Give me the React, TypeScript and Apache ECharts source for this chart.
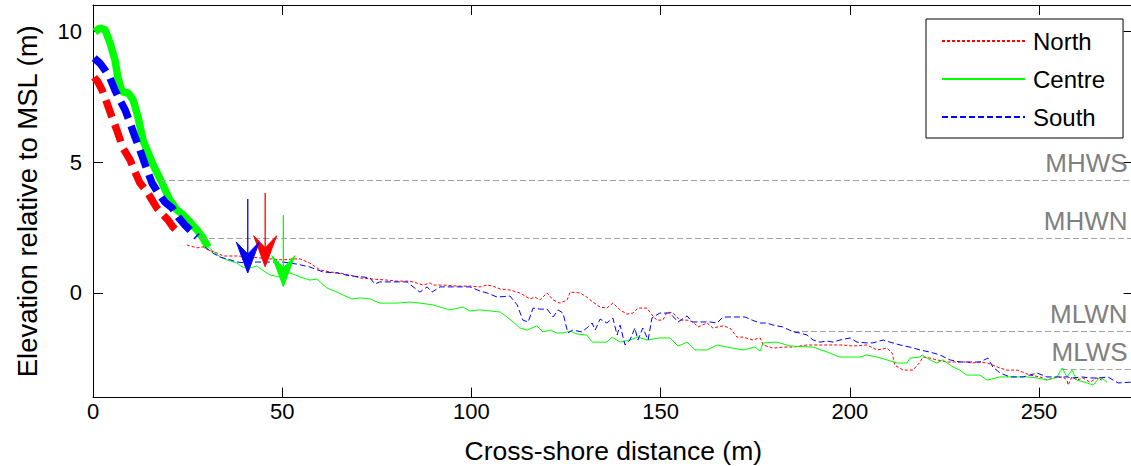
import React, { useEffect, useRef } from "react";
import * as echarts from "echarts";

// ---- Data (cross-shore distance m, elevation m relative to MSL) ----
const northThick: [number, number][] = [
  [0.3, 8.24], [1.3, 8.06], [2.4, 7.75], [3.7, 7.25], [5.0, 6.72], [6.3, 6.22],
  [7.9, 5.54], [9.8, 5.08], [11.1, 4.62], [12.4, 4.2], [14.3, 3.86], [15.6, 3.55],
  [16.9, 3.24], [18.5, 2.98], [19.8, 2.79], [21.1, 2.52], [22.5, 2.33], [23.5, 2.29],
];
const centreThick: [number, number][] = [
  [0.5, 9.97], [1.8, 10.12], [3.2, 10.05], [4.5, 9.55], [5.8, 8.9], [6.6, 8.21],
  [7.7, 7.68], [9.3, 7.64], [10.6, 7.37], [11.9, 6.72], [13.2, 5.84], [14.5, 5.38],
  [15.9, 4.89], [17.2, 4.51], [18.5, 4.12], [20.3, 3.55], [22.2, 3.17], [23.8, 2.98],
  [25.6, 2.71], [27.5, 2.4], [29.1, 2.09], [30.4, 1.75],
];
const southThick: [number, number][] = [
  [0.3, 8.97], [1.8, 8.78], [3.2, 8.51], [4.5, 8.21], [5.8, 7.75], [7.1, 7.37],
  [8.5, 6.99], [9.8, 6.49], [11.1, 5.96], [12.4, 5.46], [14.3, 4.7], [15.6, 4.2],
  [17.2, 3.82], [19.0, 3.47], [20.9, 3.25], [22.5, 2.9], [24.3, 2.59], [26.2, 2.32],
  [27.5, 2.14],
];

const northThin: [number, number][] = [
  [24.8, 1.83], [27.5, 1.72], [29.1, 1.76], [30.4, 1.64], [32.8, 1.52], [34.4, 1.41],
  [38.1, 1.41], [41.5, 1.37], [46.8, 1.3], [50.2, 1.26], [52.9, 1.3], [54.7, 1.3],
  [57.3, 1.14], [60.0, 0.88], [62.6, 0.8], [65.3, 0.76], [67.9, 0.68], [70.6, 0.57],
  [74.0, 0.53], [77.7, 0.49], [80.3, 0.45], [83.0, 0.45], [84.6, 0.42], [87.2, 0.3],
  [89.1, 0.38], [89.9, 0.3], [92.5, 0.3], [96.2, 0.26], [99.6, 0.26], [102.3, 0.23],
  [104.1, 0.3], [105.7, 0.26], [107.6, 0.15], [110.2, 0.11], [112.8, 0.0], [115.5, -0.23],
  [116.8, -0.16], [118.1, -0.27], [120.0, 0.0], [121.6, -0.27], [123.4, -0.39], [125.3, -0.27],
  [126.1, 0.03], [128.7, 0.0], [130.5, -0.16], [132.1, -0.35], [134.0, -0.54], [135.8, -0.58],
  [137.4, -0.39], [139.3, -0.65], [141.1, -0.81], [142.7, -0.77], [144.0, -0.58], [146.4, -0.58],
  [147.7, -0.84], [149.0, -1.04], [150.6, -1.04], [151.7, -0.73], [153.3, -0.77], [155.1, -1.04],
  [157.0, -1.04], [158.6, -1.11], [159.9, -1.3], [162.3, -1.15], [163.8, -1.34], [166.5, -1.26],
  [168.3, -1.34], [170.2, -1.69], [171.8, -1.69], [174.4, -1.8], [176.3, -1.72], [177.1, -1.99],
  [179.7, -2.11], [182.3, -2.07], [185.0, -2.07], [188.7, -1.99], [192.1, -1.99], [195.6, -1.99],
  [198.2, -1.99], [200.8, -2.03], [204.5, -1.99], [207.2, -2.18], [209.8, -2.11], [211.2, -2.3],
  [211.9, -2.76], [214.1, -2.95], [216.7, -2.95], [218.6, -2.64], [219.3, -2.45], [221.2, -2.49],
  [223.0, -2.56], [225.7, -2.64], [228.3, -2.64], [230.9, -2.64], [232.3, -2.68], [234.4, -2.64],
  [236.3, -2.68], [237.8, -2.76], [239.7, -2.87], [241.5, -2.95], [244.2, -2.95], [246.3, -3.06],
  [247.6, -3.14], [250.3, -3.21], [252.1, -3.33], [253.7, -3.25], [256.3, -3.21], [257.4, -3.33],
  [257.7, -3.52], [258.7, -3.21], [260.0, -3.33], [261.6, -3.25], [263.5, -3.41], [265.3, -3.25],
  [266.6, -3.33],
];
const centreThin: [number, number][] = [
  [30.4, 1.76], [33.6, 1.37], [35.4, 1.26], [38.1, 1.14], [39.4, 0.99], [41.5, 0.95],
  [43.3, 1.03], [44.7, 0.88], [46.8, 0.68], [49.4, 0.61], [52.1, 0.76], [54.7, 0.61],
  [57.3, 0.49], [59.2, 0.53], [61.8, 0.19], [64.5, 0.03], [66.1, -0.08], [68.4, -0.23],
  [70.6, -0.19], [73.2, -0.23], [75.8, -0.39], [80.3, -0.39], [83.8, -0.35], [86.4, -0.39],
  [89.9, -0.46], [91.7, -0.54], [94.3, -0.65], [97.8, -0.54], [99.6, -0.69], [102.3, -0.65],
  [104.9, -0.69], [107.6, -0.73], [109.4, -0.92], [111.0, -1.11], [112.8, -1.34], [114.7, -1.42],
  [117.3, -1.26], [118.9, -1.49], [120.8, -1.42], [122.6, -1.53], [124.2, -1.53], [126.1, -1.46],
  [127.9, -1.57], [130.5, -1.61], [131.9, -1.88], [135.8, -1.88], [137.2, -1.69], [139.3, -1.88],
  [141.9, -1.8], [144.0, -1.69], [146.4, -1.8], [149.8, -1.72], [152.5, -1.72], [154.6, -2.03],
  [157.0, -1.88], [159.1, -2.18], [162.3, -2.18], [164.9, -1.99], [167.5, -2.07], [171.8, -2.18],
  [174.9, -2.07], [176.3, -2.22], [177.1, -1.91], [180.8, -1.88], [184.2, -2.03], [190.3, -2.07],
  [194.0, -2.26], [197.4, -2.45], [202.7, -2.45], [204.5, -2.37], [207.2, -2.45], [209.8, -2.56],
  [212.5, -2.68], [215.1, -2.68], [215.9, -2.49], [218.6, -2.45], [219.1, -2.37], [221.2, -2.56],
  [223.0, -2.68], [224.6, -2.56], [227.3, -2.83], [229.1, -2.95], [230.9, -3.14], [234.4, -3.14],
  [236.3, -3.33], [239.7, -3.21], [242.3, -3.21], [246.8, -3.21], [249.5, -3.25], [252.1, -3.33],
  [254.8, -3.21], [256.1, -2.87], [257.4, -3.21], [258.7, -2.95], [260.0, -3.33], [262.7, -3.44],
  [264.3, -3.52], [266.1, -3.21], [268.0, -3.41],
];
const southThin: [number, number][] = [
  [29.6, 1.76], [31.7, 1.52], [33.6, 1.37], [35.4, 1.3], [38.1, 1.18], [40.7, 1.14],
  [43.3, 1.18], [46.8, 1.18], [50.2, 1.18], [53.9, 1.1], [57.3, 0.99], [60.8, 0.8],
  [64.5, 0.76], [67.9, 0.65], [71.4, 0.61], [73.2, 0.57], [74.5, 0.34], [75.8, 0.42],
  [79.3, 0.42], [83.0, 0.42], [84.6, 0.23], [86.4, 0.03], [88.3, 0.23], [89.6, 0.03],
  [91.7, 0.23], [95.1, 0.23], [99.6, 0.23], [102.3, 0.07], [104.1, 0.0], [106.8, -0.16],
  [110.2, -0.12], [112.1, -0.46], [113.6, -1.04], [115.0, -1.11], [116.3, -0.58], [118.1, -0.62],
  [120.0, -0.62], [121.6, -0.92], [122.9, -0.65], [124.2, -0.77], [125.5, -1.53], [126.8, -1.42],
  [129.2, -1.49], [130.5, -1.34], [131.9, -1.15], [132.7, -1.42], [134.0, -1.0], [135.8, -1.15],
  [137.4, -0.96], [138.5, -1.61], [139.3, -1.23], [140.6, -1.99], [141.9, -1.8], [143.2, -1.34],
  [144.0, -1.8], [145.3, -1.34], [146.7, -1.8], [147.7, -0.96], [149.8, -0.77], [152.5, -0.77],
  [154.6, -1.11], [157.0, -0.88], [158.3, -1.11], [160.4, -1.11], [163.1, -1.11], [164.9, -1.15],
  [166.5, -0.92], [169.1, -0.92], [172.3, -0.92], [174.2, -1.04], [176.3, -1.15], [178.1, -1.15],
  [179.7, -1.23], [182.3, -1.3], [185.0, -1.49], [186.8, -1.53], [188.7, -1.61], [190.3, -1.8],
  [192.1, -1.88], [194.0, -1.84], [195.6, -1.88], [197.4, -1.8], [200.1, -1.72], [201.9, -1.88],
  [204.5, -1.91], [206.1, -1.91], [208.8, -1.8], [210.6, -1.88], [213.3, -1.99], [215.9, -2.07],
  [218.6, -2.18], [221.2, -2.26], [223.8, -2.37], [226.5, -2.56], [229.1, -2.64], [231.8, -2.64],
  [234.4, -2.64], [236.5, -2.49], [237.8, -2.83], [239.7, -3.06], [242.3, -3.21], [245.8, -3.21],
  [247.6, -3.14], [249.5, -3.06], [252.1, -3.21], [254.8, -3.21], [257.4, -3.21], [259.0, -3.25],
  [261.4, -3.21], [263.5, -3.25], [266.1, -3.25], [268.2, -3.21], [269.6, -3.33], [270.9, -3.44],
  [274.3, -3.41],
];

// Arrows (order: North, Centre, South)
const arrowX = [45.5, 50.3, 40.9];
const arrowTop = [3.82, 2.98, 3.59];
const arrowTip = [1.0, 0.24, 0.76];

// Tidal levels
const tideNames = ["MHWS", "MHWN", "MLWN", "MLWS"];
const tideLevels = [4.3, 2.1, -1.45, -2.9];
const tideStarts = [17.7, 28.3, 185, 256];

const xTicks = [0, 50, 100, 150, 200, 250];
const yTicks = [0, 5, 10];
const X_MAX = 275;

const RED = "#ff0000";
const GREEN = "#00ff00";
const BLUE = "#0000ff";
const arrowColors = [RED, GREEN, BLUE];
const FONT = "Liberation Sans, Arial, Helvetica, sans-serif";

export default function App() {
  const ref = useRef<HTMLDivElement>(null);

  useEffect(() => {
    if (!ref.current) return;
    const chart = echarts.init(ref.current, null, { renderer: "svg" });

    const axisLine = { show: true, onZero: false, lineStyle: { color: "#000", width: 1 } };
    const tickX = { show: true, inside: true, length: 10, customValues: xTicks, lineStyle: { color: "#000" } };
    const tickY = { show: true, inside: true, length: 10, customValues: yTicks, lineStyle: { color: "#000" } };

    const thin = (name: string, data: [number, number][], color: string, type: any, z: number) => ({
      name,
      type: "line",
      data,
      symbol: "none",
      z,
      lineStyle: { color, width: 1, type },
      itemStyle: { color },
    });
    const thick = (name: string, data: [number, number][], color: string, type: any, z: number) => ({
      name,
      type: "line",
      data,
      symbol: "none",
      z,
      lineStyle: { color, width: 7.5, type, cap: "butt" },
      itemStyle: { color },
    });

    const option: any = {
      animation: false,
      backgroundColor: "#fff",
      textStyle: { fontFamily: FONT },
      grid: {
        left: 93,
        top: 5,
        width: 1040.6,
        height: 392.6,
        containLabel: false,
        outerBoundsMode: "none",
      },
      legend: {
        data: ["North", "Centre", "South"],
        orient: "vertical",
        left: 926,
        top: 19,
        padding: [10, 18, 9, 15],
        itemWidth: 83,
        itemHeight: 14,
        itemGap: 14,
        borderColor: "#000",
        borderWidth: 1,
        backgroundColor: "#fff",
        itemStyle: { opacity: 0 },
        textStyle: { fontSize: 24, color: "#000", fontFamily: FONT, padding: [0, 0, 0, 3] },
      },
      xAxis: [
        {
          type: "value",
          min: 0,
          max: X_MAX,
          position: "bottom",
          axisLine,
          axisTick: tickX,
          axisLabel: { customValues: xTicks, fontSize: 22, color: "#000", margin: 3, fontFamily: FONT },
          splitLine: { show: false },
          name: "Cross-shore distance (m)",
          nameLocation: "middle",
          nameGap: 40,
          nameTextStyle: { fontSize: 26.5, color: "#000", fontFamily: FONT },
        },
        {
          type: "value",
          min: 0,
          max: X_MAX,
          position: "top",
          axisLine,
          axisTick: tickX,
          axisLabel: { show: false },
          splitLine: { show: false },
        },
      ],
      yAxis: [
        {
          type: "value",
          min: -4,
          max: 11,
          position: "left",
          axisLine,
          axisTick: tickY,
          axisLabel: { customValues: yTicks, fontSize: 22, color: "#000", margin: 11, fontFamily: FONT },
          splitLine: { show: false },
          name: "Elevation relative to MSL (m)",
          nameLocation: "middle",
          nameGap: 52,
          nameTextStyle: { fontSize: 27.5, color: "#000", fontFamily: FONT },
        },
        {
          type: "value",
          min: -4,
          max: 11,
          position: "right",
          axisLine,
          axisTick: tickY,
          axisLabel: { show: false },
          splitLine: { show: false },
        },
      ],
      series: [
        {
          name: "tides",
          type: "line",
          data: [],
          symbol: "none",
          z: 1,
          markLine: {
            silent: true,
            symbol: ["none", "none"],
            lineStyle: { color: "#a0a0a0", width: 1, type: [6, 3] },
            label: {
              show: true,
              position: "insideEndTop",
              color: "#808080",
              fontSize: 26,
              fontFamily: FONT,
              distance: [6, 4],
            },
            data: tideNames.map((n, i) => [
              { name: n, coord: [tideStarts[i], tideLevels[i]], label: { formatter: n } },
              { coord: [X_MAX, tideLevels[i]] },
            ]),
          },
        },
        thick("North thick", northThick, RED, [18, 8], 2),
        thick("Centre thick", centreThick, GREEN, "solid", 3),
        thick("South thick", southThick, BLUE, [18, 8], 4),
        thin("North", northThin, RED, [3, 2], 5),
        thin("Centre", centreThin, GREEN, "solid", 6),
        thin("South", southThin, BLUE, [6, 3], 7),
        {
          name: "arrows",
          type: "custom",
          z: 10,
          data: arrowX.map((x, i) => [x, arrowTop[i], arrowTip[i]]),
          encode: { x: 0, y: [1, 2] },
          renderItem: (params: any, api: any) => {
            const x = api.value(0);
            const top = api.coord([x, api.value(1)]);
            const tip = api.coord([x, api.value(2)]);
            const color = arrowColors[params.dataIndex];
            const tx = tip[0];
            const ty = tip[1];
            return {
              type: "group",
              children: [
                {
                  type: "line",
                  shape: { x1: top[0], y1: top[1], x2: tx, y2: ty - 18 },
                  style: { stroke: color, lineWidth: 1.3 },
                },
                {
                  type: "polygon",
                  shape: {
                    points: [
                      [tx, ty],
                      [tx - 11.5, ty - 31],
                      [tx, ty - 19],
                      [tx + 11.5, ty - 31],
                    ],
                  },
                  style: { fill: color, stroke: color, lineWidth: 1 },
                },
              ],
            };
          },
        },
      ],
    };

    chart.setOption(option);
    return () => chart.dispose();
  }, []);

  return (
    <div
      ref={ref}
      style={{ position: "fixed", left: 0, top: 0, width: 1131, height: 466, background: "#fff" }}
    />
  );
}
